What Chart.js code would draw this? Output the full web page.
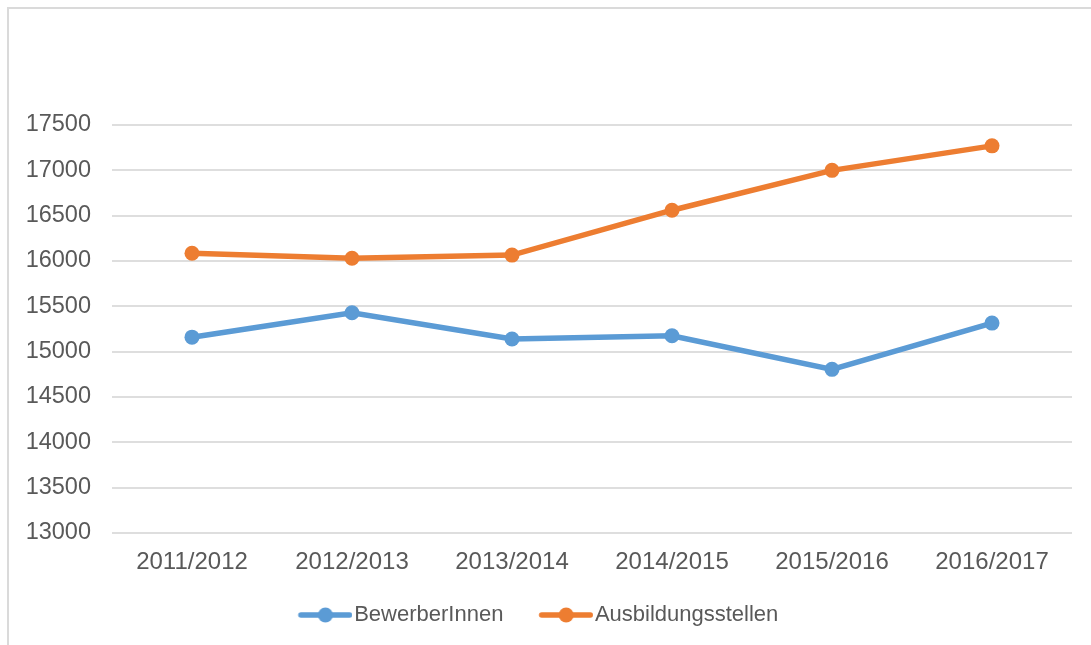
<!DOCTYPE html>
<html>
<head>
<meta charset="utf-8">
<script src="https://cdn.jsdelivr.net/npm/chart.js@4/dist/chart.umd.min.js"></script>
<style>
  html, body { margin: 0; padding: 0; background: #ffffff; }
  body { width: 1091px; height: 645px; position: relative; overflow: hidden; }
  #frame { position: absolute; left: 7px; top: 7px; right: -5px; bottom: -5px;
           border-left: 2px solid #dadada; border-top: 2px solid #dadada; }
  #c { position: absolute; left: 0; top: 0; }
</style>
</head>
<body>
<div id="frame"></div>
<canvas id="c" width="1091" height="645"></canvas>
<script>
// ---- data ----
const categories = ['2011/2012', '2012/2013', '2013/2014', '2014/2015', '2015/2016', '2016/2017'];
const seriesNames = ['BewerberInnen', 'Ausbildungsstellen'];
const bewerberInnen = [15160, 15430, 15140, 15175, 14805, 15315];
const ausbildungsstellen = [16085, 16030, 16065, 16560, 17000, 17270];
const yMin = 13000;
const yMax = 17500;
const yStep = 500;

// ---- styling ----
const BLUE = '#5B9BD5';
const ORANGE = '#ED7D31';
const TEXT = '#595959';
const GRID = '#dedede';
const FONT = "'Liberation Sans', Arial, sans-serif";

function legendSwatch(color) {
  const c = document.createElement('canvas');
  c.width = 88; c.height = 18;
  const g = c.getContext('2d');
  g.strokeStyle = color;
  g.lineWidth = 5.5;
  g.lineCap = 'round';
  g.beginPath();
  g.moveTo(36.5, 9);
  g.lineTo(85.2, 9);
  g.stroke();
  g.fillStyle = color;
  g.beginPath();
  g.arc(61, 9, 7.5, 0, Math.PI * 2);
  g.fill();
  return c;
}

const shiftLegend = {
  id: 'shiftLegend',
  afterLayout: function (chart) {
    if (chart.legend) {
      chart.legend.left -= 10;
      chart.legend.right -= 10;
    }
  }
};

const ctx = document.getElementById('c').getContext('2d');
new Chart(ctx, {
  type: 'line',
  plugins: [shiftLegend],
  data: {
    labels: categories,
    datasets: [
      {
        label: seriesNames[0],
        data: bewerberInnen,
        borderColor: BLUE,
        backgroundColor: BLUE,
        borderWidth: 5.5,
        pointRadius: 7.5,
        pointHoverRadius: 7.5,
        pointBorderWidth: 0,
        pointBackgroundColor: BLUE,
        pointStyle: 'circle',
        tension: 0
      },
      {
        label: seriesNames[1],
        data: ausbildungsstellen,
        borderColor: ORANGE,
        backgroundColor: ORANGE,
        borderWidth: 5.5,
        pointRadius: 7.5,
        pointHoverRadius: 7.5,
        pointBorderWidth: 0,
        pointBackgroundColor: ORANGE,
        pointStyle: 'circle',
        tension: 0
      }
    ]
  },
  options: {
    responsive: false,
    animation: false,
    devicePixelRatio: 1,
    layout: { padding: { left: 0, right: 19, top: 125, bottom: 9 } },
    plugins: {
      tooltip: { enabled: false },
      title: { display: false },
      legend: {
        display: true,
        position: 'bottom',
        align: 'center',
        labels: {
          usePointStyle: true,
          pointStyleWidth: 69.5,
          padding: 11,
          color: TEXT,
          font: { family: FONT, size: 22 },
          generateLabels: function (chart) {
            return chart.data.datasets.map(function (ds, i) {
              return {
                text: ds.label,
                fillStyle: ds.borderColor,
                strokeStyle: ds.borderColor,
                lineWidth: 0,
                pointStyle: legendSwatch(ds.borderColor),
                hidden: false,
                datasetIndex: i,
                fontColor: TEXT
              };
            });
          }
        }
      }
    },
    scales: {
      x: {
        offset: true,
        grid: { display: false, drawTicks: false },
        border: { display: false },
        ticks: { color: TEXT, font: { family: FONT, size: 24 }, padding: 15, maxRotation: 0 },
        afterFit: function (s) { s.height = 60; }
      },
      y: {
        min: yMin,
        max: yMax,
        grid: { color: GRID, lineWidth: 2, drawTicks: false },
        border: { display: false },
        ticks: {
          stepSize: yStep,
          color: TEXT,
          font: { family: FONT, size: 23.5 },
          padding: 21,
          callback: function (v) { return String(v); }
        },
        afterFit: function (s) { s.width = 112; }
      }
    }
  }
});
</script>
</body>
</html>
